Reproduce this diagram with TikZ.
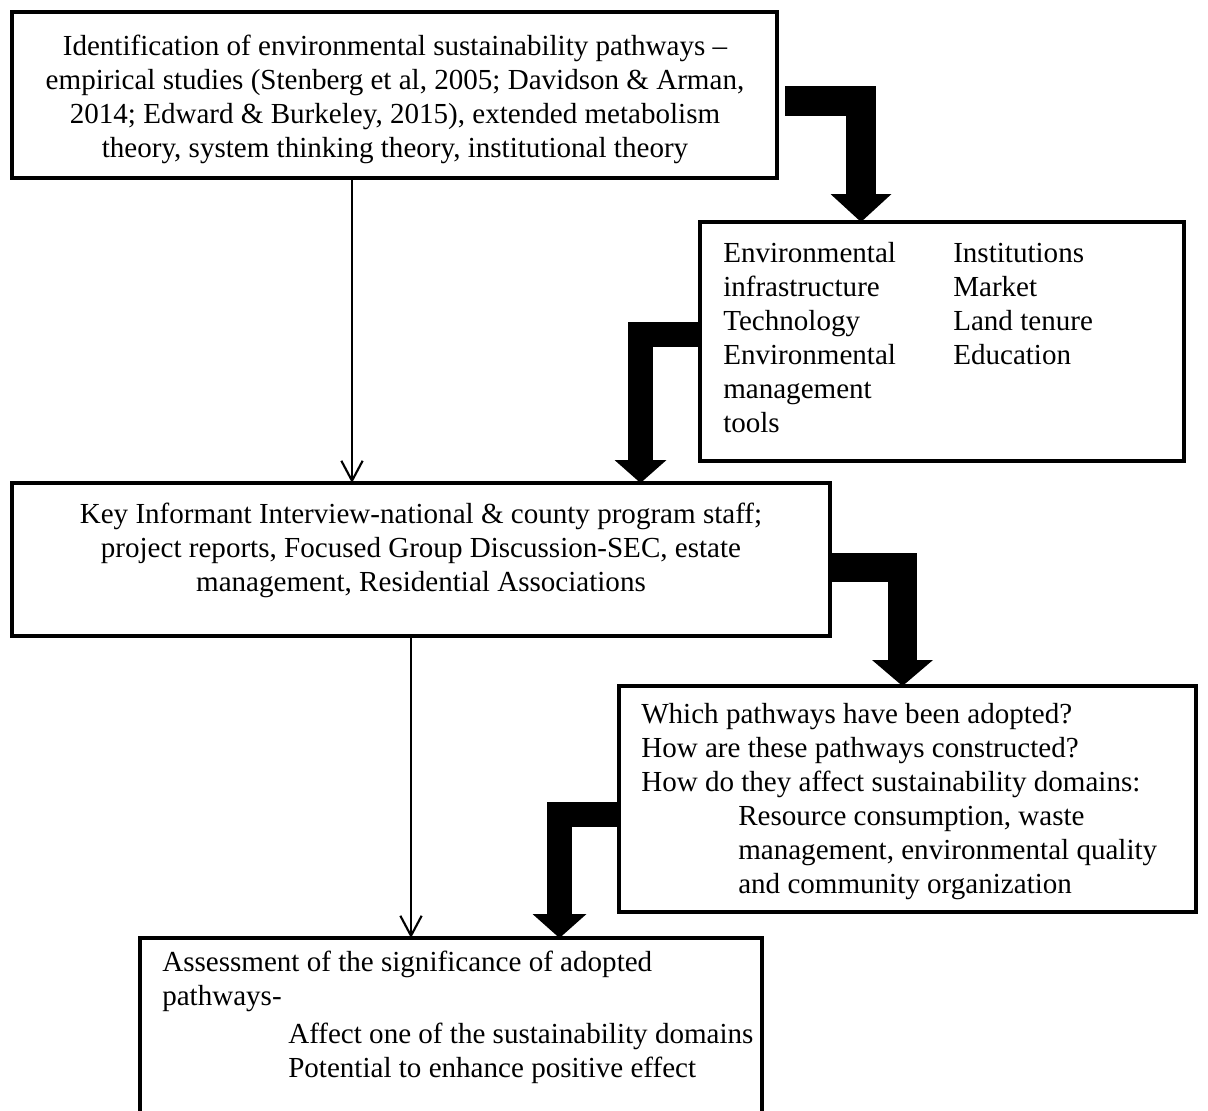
\documentclass[tikz,border=0pt]{standalone}
\usepackage{fontspec}
\setmainfont{Liberation Serif}
\usetikzlibrary{arrows.meta,calc}
\tikzset{
  box/.style={draw=black, line width=3.4pt, rectangle, inner sep=0pt, outer sep=0pt, fill=white},
  txt/.style={inner sep=0pt, font=\fontsize{21.8pt}{25.5pt}\selectfont, execute at begin node=\strut, execute at end node=\strut},
  thinarrow/.style={draw=black, line width=1.6pt, -{Straight Barb[length=15pt,width=16pt]}},
  bigarrow/.style={draw=black, line join=miter, line cap=butt},
}
\begin{document}
\begin{tikzpicture}[x=0.75pt,y=-0.75pt]
\clip (0,0) rectangle (1208,1111);
\fill[white] (0,0) rectangle (1208,1111);
% boxes
\node[box, minimum width=765*0.75pt, minimum height=166*0.75pt] (b1) at (394.5,95) {};
\node[box, minimum width=484*0.75pt, minimum height=239*0.75pt] (b2) at (942,341.5) {};
\node[box, minimum width=818*0.75pt, minimum height=153*0.75pt] (b3) at (421,559.5) {};
\node[box, minimum width=577*0.75pt, minimum height=226*0.75pt] (b4) at (907.5,799) {};
\node[box, minimum width=622*0.75pt, minimum height=192*0.75pt] (b5) at (451,1034) {};
% texts
\node[txt, align=center] (t1) at (395,101) {Identification of environmental sustainability pathways –\\empirical studies (Stenberg et al, 2005; Davidson \& Arman,\\2014; Edward \& Burkeley, 2015), extended metabolism\\theory, system thinking theory, institutional theory};
\node[txt, align=left, anchor=west] (t2a) at (723,342.5) {Environmental\\infrastructure\\Technology\\Environmental\\management\\tools};
\node[txt, align=left, anchor=west] (t2b) at (953,308.5) {Institutions\\Market\\Land tenure\\Education};
\node[txt, align=center] (t3) at (421,552) {Key Informant Interview-national \& county program staff;\\project reports, Focused Group Discussion-SEC, estate\\management, Residential Associations};
\node[txt, align=left, anchor=west] (t4a) at (641,753) {Which pathways have been adopted?\\How are these pathways constructed?\\How do they affect sustainability domains:};
\node[txt, align=left, anchor=west] (t4b) at (738,855) {Resource consumption, waste\\management, environmental quality\\and community organization};
\node[txt, align=left, anchor=west] (t5a) at (162,983) {Assessment of the significance of adopted\\pathways-};
\node[txt, align=left, anchor=west] (t5b) at (288,1055) {Affect one of the sustainability domains\\Potential to enhance positive effect};
% thin connectors
\coordinate (x1) at (352,0);
\coordinate (x2) at (411,0);
\draw[thinarrow] (x1 |- b1.south) -- (x1 |- b3.north);
\draw[thinarrow] (x2 |- b3.south) -- (x2 |- b5.north);
% thick connectors
\coordinate (a1s) at (785,101);
\coordinate (a1x) at (861,0);
\draw[bigarrow, line width=22.5pt, -{Triangle[width=45.75pt,length=21pt,line width=0pt]}] (a1s) -| (a1x |- b2.north);
\coordinate (a2y) at (0,334.5);
\coordinate (a2x) at (640.5,0);
\draw[bigarrow, line width=18.75pt, -{Triangle[width=39pt,length=17.25pt,line width=0pt]}] (b2.west |- a2y) -| (a2x |- b3.north);
\coordinate (a3y) at (0,567.5);
\coordinate (a3x) at (902.5,0);
\draw[bigarrow, line width=21.75pt, -{Triangle[width=45.75pt,length=19.5pt,line width=0pt]}] (b3.east |- a3y) -| (a3x |- b4.north);
\coordinate (a4y) at (0,814.5);
\coordinate (a4x) at (559.5,0);
\draw[bigarrow, line width=18.75pt, -{Triangle[width=40.5pt,length=18pt,line width=0pt]}] (b4.west |- a4y) -| (a4x |- b5.north);
\end{tikzpicture}
\end{document}
